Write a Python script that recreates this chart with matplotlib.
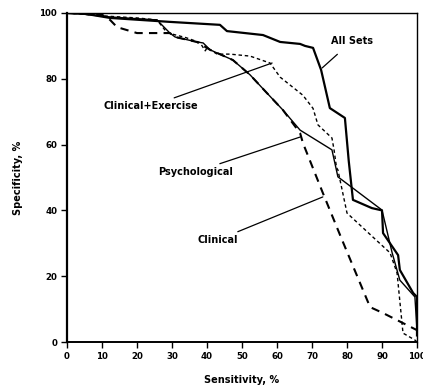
import matplotlib
matplotlib.use("Agg")
import matplotlib.pyplot as plt

# Data: sensitivity (x) vs specificity (y)
all_x = [0, 5, 12.3, 29.4, 43.7, 45.7, 56, 60.9, 66.6, 68, 70.3, 72.6, 75.1, 79.4, 80.5, 81.7, 87.1, 90, 90.3, 94.6, 95.1, 98.9, 100, 100]
all_y = [100, 99.8, 98.5, 97.3, 96.4, 94.5, 93.3, 91.2, 90.6, 90, 89.4, 82.7, 71.1, 68.1, 55, 43.2, 40.7, 40, 33.1, 26.4, 21.9, 14.9, 13.7, 2]

psy_x = [0, 5, 12.3, 25.7, 29.4, 30.9, 37.1, 38.9, 40.9, 47.4, 52.3, 57.1, 61.7, 66.6, 75.7, 77.4, 90, 92.9, 95.1, 99.4, 100]
psy_y = [100, 99.6, 98.8, 97.9, 93.9, 92.7, 91.2, 90.9, 88.8, 85.7, 81.2, 75.7, 70.5, 64.4, 58.4, 50.2, 40.1, 27.1, 18.8, 13.7, 3.6]

cli_x = [0, 10, 12.3, 14.3, 20, 29.4, 30.9, 37.1, 40.9, 47.4, 52.3, 57.1, 61.7, 66.6, 67.4, 73.1, 78.6, 86.6, 90.3, 100]
cli_y = [100, 99.5, 97.9, 95.7, 93.9, 93.9, 92.7, 91.2, 88.8, 85.7, 81.2, 75.7, 70.5, 63.5, 60.5, 45.3, 31, 10.6, 8.8, 3.6]

cex_x = [0, 5, 12, 20, 25.7, 28.6, 34, 38, 39.5, 40, 42.9, 46.6, 52.3, 58, 60.9, 67.4, 70.3, 71.7, 75.7, 76.3, 77, 77.4, 80, 87.4, 92.3, 94.3, 96, 99.4, 100]
cex_y = [100, 99.6, 99, 98.5, 97.9, 94, 92.5, 91, 88.5, 89.4, 87.5, 87.5, 86.9, 84.8, 80.5, 75, 71, 66, 62, 58.4, 53, 52.3, 39.2, 31.9, 27.1, 21, 2.7, 0.6, 0]

xticks = [0, 10, 20, 30, 40, 50, 60, 70, 80, 90, 100]
yticks = [0, 20, 40, 60, 80, 100]

plt.rcParams['font.family'] = ['DejaVu Sans']

fig = plt.figure(figsize=(4.23, 3.90), dpi=100)
ax = fig.add_axes([67/423, 48/390, 350/423, 329/390])

ax.plot(all_x, all_y, color='black', lw=1.6)
ax.plot(psy_x, psy_y, color='black', lw=1.0)
ax.plot(cli_x, cli_y, color='black', lw=1.5, dashes=(4, 3))
ax.plot(cex_x, cex_y, color='black', lw=1.0, dashes=(2.5, 2))

ax.set_xlim(0, 100)
ax.set_ylim(0, 100)
ax.set_xticks(xticks)
ax.set_yticks(yticks)
ax.tick_params(direction='out', length=4, width=1, labelsize=6.2, pad=3)
for lab in ax.get_xticklabels() + ax.get_yticklabels():
    lab.set_fontweight('bold')
for sp in ax.spines.values():
    sp.set_linewidth(1.0)
ax.spines['left'].set_linewidth(1.6)
ax.spines['bottom'].set_linewidth(1.4)

ax.set_xlabel('Sensitivity, %', fontsize=7, fontweight='bold', labelpad=10)
ax.set_ylabel('Specificity, %', fontsize=7, fontweight='bold', labelpad=12)

kw = dict(fontsize=7, fontweight='bold', ha='center', va='center')
ax.annotate('All Sets', xy=(72.9, 83.3), xytext=(81.5, 91.5), **kw,
            arrowprops=dict(arrowstyle='-', lw=0.9, color='black', shrinkA=6, shrinkB=0))
ax.annotate('Clinical+Exercise', xy=(58.6, 84.8), xytext=(24, 71.7), **kw,
            arrowprops=dict(arrowstyle='-', lw=0.9, color='black', shrinkA=1, shrinkB=0))
ax.annotate('Psychological', xy=(66.6, 62.3), xytext=(36.6, 51.7), **kw,
            arrowprops=dict(arrowstyle='-', lw=0.9, color='black', shrinkA=1, shrinkB=0))
ax.annotate('Clinical', xy=(73.1, 44.1), xytext=(43, 31), **kw,
            arrowprops=dict(arrowstyle='-', lw=0.9, color='black', shrinkA=1, shrinkB=0))

fig.savefig('out.png', dpi=100)
